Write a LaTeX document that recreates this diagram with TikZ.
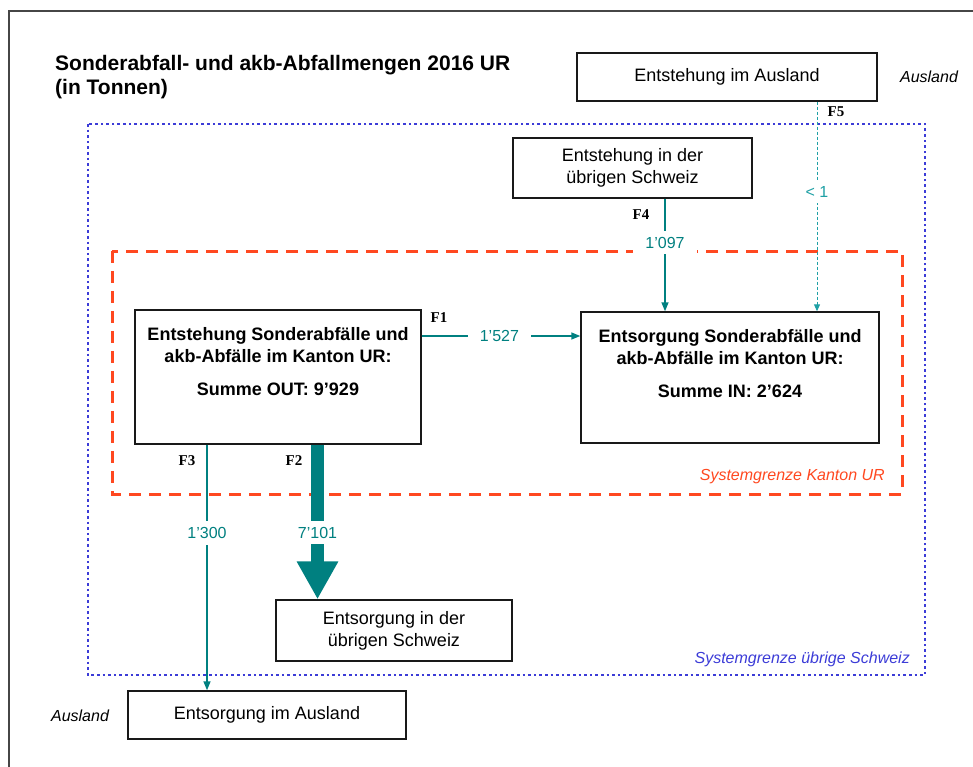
\documentclass[tikz,border=0pt]{standalone}
\usepackage{fontspec}
\setmainfont{Liberation Sans}
\newfontfamily\flowserif{Liberation Serif}
\usetikzlibrary{arrows.meta, positioning}

\definecolor{flowteal}{RGB}{0,128,128}
\definecolor{flowcyan}{RGB}{30,160,165}
\definecolor{sysred}{RGB}{255,72,32}
\definecolor{sysblue}{RGB}{60,60,215}
\definecolor{framegray}{RGB}{70,70,70}

\begin{document}
\begin{tikzpicture}[x=1pt, y=-1pt, >={Triangle[length=9pt,width=7pt]},
    box/.style={draw=black!90, line width=1.4pt, inner sep=0pt, align=center, font=\fontsize{18}{22}\selectfont},
    boxtext/.style={align=center, inner sep=0pt, font=\fontsize{18}{22}\selectfont\bfseries},
    flow/.style={draw=flowteal, line width=1.4pt, ->},
    amount/.style={fill=white, text=flowteal, inner xsep=12pt, inner ysep=6pt, font=\fontsize{16}{16}\selectfont},
    fname/.style={font=\fontsize{15}{15}\selectfont\flowserif\bfseries, inner sep=0pt},
    region/.style={font=\fontsize{16}{16}\selectfont\itshape, inner sep=0pt}]
    \useasboundingbox (0,0) rectangle (973,767);
    \draw[framegray, line width=1.2pt] (9,767) -- (9,11) -- (973,11);

    % system boundaries
    \draw[sysblue, line width=2.6pt, dash pattern=on 2.6pt off 3pt] (88,124) rectangle (925,675);
    \draw[sysred, line width=3pt, dash pattern=on 12pt off 8pt] (112,251) rectangle (902,494);

    \node[anchor=base west, inner sep=0pt, font=\fontsize{21}{24}\selectfont\bfseries] (title) at (55,71) {Sonderabfall- und akb-Abfallmengen 2016 UR};
    \node[anchor=base west, inner sep=0pt, font=\fontsize{21}{24}\selectfont\bfseries] (unit) at (55,95) {(in Tonnen)};

    \node[box, minimum width=300pt, minimum height=48pt] (ea) at (727,77) {Entstehung im Ausland};
    \node[box, minimum width=239pt, minimum height=60pt] (es) at (632.5,168) {Entstehung in der\\übrigen Schweiz};
    \node[box, minimum width=286pt, minimum height=134pt] (ek) at (278,377) {};
    \node[box, minimum width=298pt, minimum height=131pt] (ik) at (730,377.5) {};
    \node[boxtext] (ektext) at (278,362) {Entstehung Sonderabfälle und\\akb-Abfälle im Kanton UR:\\[11pt]Summe OUT: 9’929};
    \node[boxtext] (iktext) at (730,364) {Entsorgung Sonderabfälle und\\akb-Abfälle im Kanton UR:\\[11pt]Summe IN: 2’624};
    \node[box, minimum width=236pt, minimum height=61pt] (rs) at (394,630.5) {Entsorgung in der\\übrigen Schweiz};
    \node[box, minimum width=278pt, minimum height=48pt] (ra) at (267,715) {Entsorgung im Ausland};

    \node[region] (ausl1) at (929,77) {Ausland};
    \node[region] (ausl2) at (80,716) {Ausland};
    \node[region, text=sysred, anchor=east] (sgur) at (885,477) {Systemgrenze Kanton UR};
    \node[region, text=sysblue, anchor=east] (sgch) at (910,659) {Systemgrenze übrige Schweiz};

    % flows
    \coordinate (yF1) at (0,336);
    \coordinate (xF2) at (317.5,0);
    \coordinate (xF3) at (207,0);
    \coordinate (xF4) at (665,0);
    \coordinate (xF5) at (817,0);

    \path (ek.east |- yF1) edge[flow] node[amount, pos=.49] {1’527} (ik.west |- yF1)
        (es.south -| xF4) edge[flow] node[amount, pos=.39] {1’097} (ik.north -| xF4)
        (ea.south -| xF5) edge[draw=flowcyan, line width=1pt, dash pattern=on 3pt off 2pt, -{Triangle[length=7pt,width=6pt]}]
            node[amount, text=flowcyan, pos=.43] {< 1} (ik.north -| xF5)
        (ek.south -| xF3) edge[flow] node[amount, pos=.36] {1’300} (ra.north -| xF3)
        (ek.south -| xF2) edge[draw=flowteal, line width=13pt, -{Triangle[length=38pt 0,width=39pt 0]}]
            node[amount, pos=.57] {7’101} (rs.north -| xF2);

    \node[fname] (f1) at (439,318) {F1};
    \node[fname] (f2) at (294,461) {F2};
    \node[fname] (f3) at (187,461) {F3};
    \node[fname] (f4) at (641,215) {F4};
    \node[fname] (f5) at (836,112) {F5};
\end{tikzpicture}
\end{document}
